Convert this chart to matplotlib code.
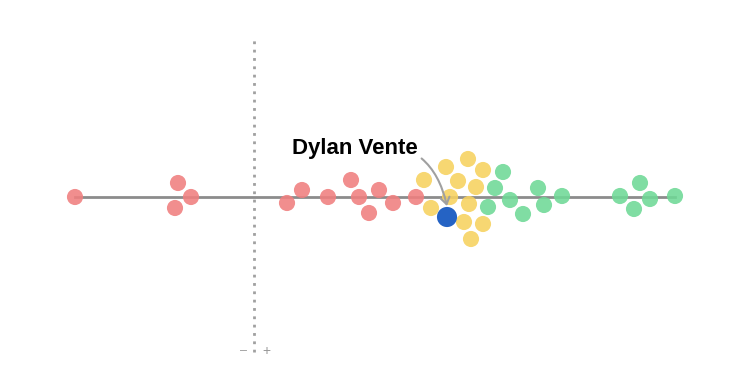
import matplotlib
matplotlib.use("Agg")
import matplotlib.pyplot as plt

# values: x position (zero = dotted reference line), y = swarm offset
red_x = [-17.9, -7.6, -6.3, -7.9, 3.3, 4.8, 7.4, 9.7, 10.5, 11.5, 12.5, 13.9, 16.2]
red_y = [0, 14, 0, -11, -6, 7, 0, 17, 0, -16, 7, -6, 0]
yellow_x = [17.0, 19.2, 21.4, 22.9, 20.4, 22.2, 19.6, 17.7, 21.5, 21.0, 22.9, 21.7]
yellow_y = [17, 30, 38, 27, 16, 10, 0, -11, -7, -25, -27, -42]
green_x = [24.9, 24.1, 23.4, 25.6, 26.9, 28.4, 29.0, 30.8, 36.6, 38.6, 38.0, 39.6, 42.1]
green_y = [25, 9, -10, -3, -17, 9, -8, 1, 1, 14, -12, -2, 1]
player_x = [19.3]
player_y = [-20]
player_name = "Dylan Vente"

fig = plt.figure(figsize=(7.5, 3.75), dpi=100)
ax = fig.add_axes([0, 0, 1, 1])
ax.set_xlim(-25.4, 49.6)
ax.set_ylim(-178, 197)
ax.axis("off")

all_x = red_x + yellow_x + green_x
ax.plot([min(all_x), max(all_x)], [0, 0], color="#8c8c8c", lw=2, zorder=1)
ax.plot([0, 0], [-155, 159], color="#a0a0a0", lw=2, linestyle=(0, (1, 2)), zorder=1)
ax.text(-1.0, -154, "–", ha="center", va="center", fontsize=9, color="#999999", family="Liberation Sans")
ax.text(1.2, -154, "+", ha="center", va="center", fontsize=10, color="#999999", family="Liberation Sans")

s = 135
ax.scatter(red_x, red_y, s=s, color="#f07f7f", alpha=0.88, edgecolors="none", zorder=2)
ax.scatter(yellow_x, yellow_y, s=s, color="#f7d25f", alpha=0.88, edgecolors="none", zorder=2)
ax.scatter(green_x, green_y, s=s, color="#6fd996", alpha=0.88, edgecolors="none", zorder=2)
ax.scatter(player_x, player_y, s=210, color="#2563c4", edgecolors="none", zorder=3)

ax.annotate(player_name, xy=(player_x[0], player_y[0] + 11), xytext=(3.8, 49),
            fontsize=16, fontweight="bold", family="Liberation Sans", color="black",
            ha="left", va="center",
            arrowprops=dict(arrowstyle="->,head_length=0.3,head_width=0.2", color="#a0a0a0", lw=1.5,
                            connectionstyle="arc3,rad=-0.5", shrinkA=1, shrinkB=0))

fig.savefig("out.png", dpi=100)
